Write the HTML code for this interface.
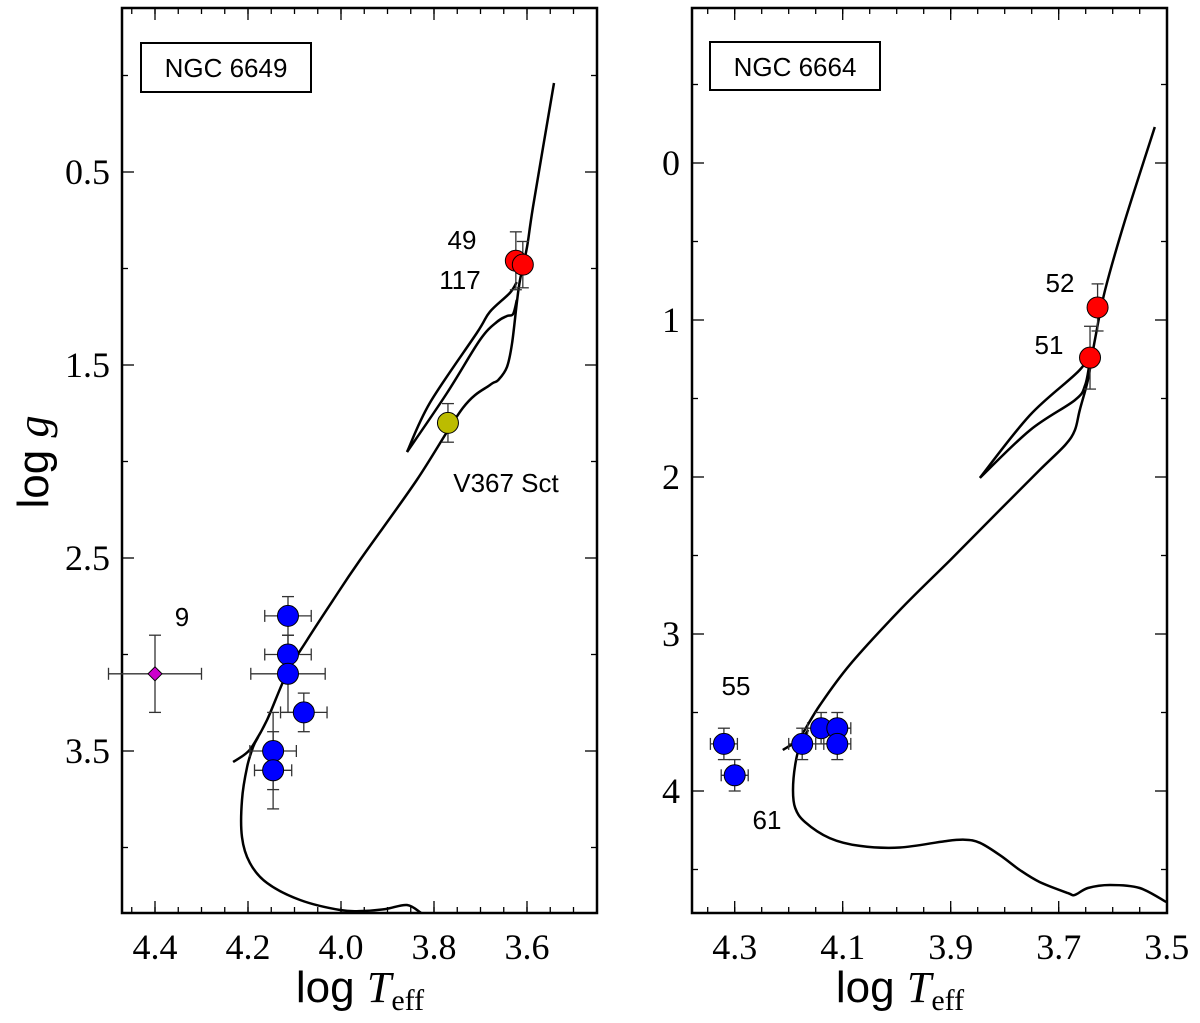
<!DOCTYPE html>
<html><head><meta charset="utf-8"><style>
body{margin:0;background:#fff}
svg text{font-family:"Liberation Sans",sans-serif}
.tk{font-family:"Liberation Serif",serif;font-size:36px}
</style></head><body>
<svg id="c" width="1200" height="1018" xmlns="http://www.w3.org/2000/svg"></svg>
<script>
// ---------- data ----------
const leftXTicks=[4.4,4.2,4.0,3.8,3.6];
const leftXTickLabels=["4.4","4.2","4.0","3.8","3.6"];
const leftYTicks=[0.5,1.5,2.5,3.5];
const leftYTickLabels=["0.5","1.5","2.5","3.5"];
const rightXTicks=[4.3,4.1,3.9,3.7,3.5];
const rightXTickLabels=["4.3","4.1","3.9","3.7","3.5"];
const rightYTicks=[0,1,2,3,4];
const rightYTickLabels=["0","1","2","3","4"];

const leftBlueT=[4.114,4.114,4.114,4.08,4.146,4.146];
const leftBlueG=[2.8,3.0,3.1,3.3,3.5,3.6];
const leftBlueTe=[0.05,0.05,0.08,0.05,0.05,0.04];
const leftBlueGe=[0.1,0.1,0.2,0.1,0.2,0.2];
const leftRedT=[3.624,3.609];
const leftRedG=[0.96,0.98];
const leftRedGe=[0.15,0.12];
const leftYellowT=[3.77]; const leftYellowG=[1.80]; const leftYellowGe=[0.1];
const leftDiamondT=[4.4]; const leftDiamondG=[3.1];

const rightBlueT=[4.32,4.30,4.175,4.14,4.11,4.11];
const rightBlueG=[3.7,3.9,3.7,3.6,3.6,3.7];
const rightRedT=[3.628,3.642];
const rightRedG=[0.92,1.24];

const leftIsoMS=[[3.828,4.339],[3.858,4.298],[3.905,4.319],[3.953,4.329],[4.002,4.324],[4.088,4.272],[4.159,4.184],[4.196,4.08],[4.213,3.946],[4.213,3.754],[4.202,3.583],[4.189,3.479],[4.178,3.427]];
const leftIsoRGB=[[4.232,3.557],[4.206,3.516],[4.189,3.469],[4.159,3.339],[4.116,3.096],[4.073,2.925],[4.017,2.718],[3.959,2.51],[3.837,2.096],[3.738,1.723],[3.68,1.604],[3.662,1.578],[3.643,1.51],[3.632,1.386],[3.622,1.179],[3.615,1.06],[3.6,0.889],[3.587,0.681],[3.542,0.039]];
const leftLoopA=[[3.858,1.951],[3.772,1.645],[3.701,1.37],[3.665,1.277],[3.643,1.246],[3.63,1.236],[3.622,1.163]];
const leftLoopB=[[3.858,1.951],[3.809,1.697],[3.708,1.334],[3.68,1.225],[3.637,1.127],[3.622,1.07]];

const rightIsoMS=[[3.501,4.707],[3.55,4.618],[3.605,4.599],[3.646,4.618],[3.67,4.662],[3.683,4.65],[3.735,4.58],[3.772,4.503],[3.809,4.408],[3.846,4.33],[3.874,4.31],[3.911,4.32],[3.994,4.36],[4.068,4.35],[4.124,4.3],[4.17,4.197],[4.188,4.108],[4.192,3.994],[4.188,3.834],[4.179,3.707],[4.164,3.611]];
const rightIsoRGB=[[4.211,3.739],[4.188,3.688],[4.174,3.631],[4.142,3.452],[4.087,3.197],[3.994,2.847],[3.901,2.529],[3.809,2.21],[3.735,1.955],[3.688,1.796],[3.67,1.701],[3.661,1.573],[3.646,1.382],[3.633,1.127],[3.614,0.809],[3.577,0.363],[3.522,-0.229]];
const rightLoopA=[[3.846,2.006],[3.753,1.701],[3.67,1.51],[3.651,1.414],[3.642,1.255]];
const rightLoopB=[[3.846,2.006],[3.753,1.605],[3.661,1.318],[3.642,1.191]];

// ---------- helpers ----------
const NS="http://www.w3.org/2000/svg";
const svg=document.getElementById('c');
function mk(tag,attrs,parent){const e=document.createElementNS(NS,tag);for(const k in attrs)e.setAttribute(k,attrs[k]);(parent||svg).appendChild(e);return e;}
const L={x0:122,x1:597,y0:8,y1:913,x:t=>155+(4.4-t)*465,y:g=>172+(g-0.5)*193};
const R={x0:692,x1:1167,y0:8,y1:913,x:t=>734.7+(4.3-t)*540,y:g=>163+g*157};

function frame(P,xt,xl,yt,yl,xminor,yminor,name){
  const g=mk('g',{});
  
  
  mk('rect',{x:P.x0,y:P.y0,width:P.x1-P.x0,height:P.y1-P.y0,fill:'none',stroke:'#000','stroke-width':2.5},g);
  xminor.forEach(t=>{const x=P.x(t);if(x<P.x0||x>P.x1)return;
    mk('line',{x1:x,x2:x,y1:P.y1,y2:P.y1-6,stroke:'#000','stroke-width':1.3},g);
    mk('line',{x1:x,x2:x,y1:P.y0,y2:P.y0+6,stroke:'#000','stroke-width':1.3},g);});
  xt.forEach((t,i)=>{const x=P.x(t);
    mk('line',{x1:x,x2:x,y1:P.y1,y2:P.y1-12,stroke:'#000','stroke-width':1.3},g);
    mk('line',{x1:x,x2:x,y1:P.y0,y2:P.y0+12,stroke:'#000','stroke-width':1.3},g);
    const tx=mk('text',{x:x,y:P.y1+46,'text-anchor':'middle',class:'tk'},g);tx.textContent=xl[i];
    
    });
  yminor.forEach(v=>{const y=P.y(v);if(y<P.y0||y>P.y1)return;
    mk('line',{x1:P.x0,x2:P.x0+6,y1:y,y2:y,stroke:'#000','stroke-width':1.3},g);
    mk('line',{x1:P.x1,x2:P.x1-6,y1:y,y2:y,stroke:'#000','stroke-width':1.3},g);});
  yt.forEach((v,i)=>{const y=P.y(v);
    mk('line',{x1:P.x0,x2:P.x0+12,y1:y,y2:y,stroke:'#000','stroke-width':1.3},g);
    mk('line',{x1:P.x1,x2:P.x1-12,y1:y,y2:y,stroke:'#000','stroke-width':1.3},g);
    const tx=mk('text',{x:P.x0-12,y:y+12,'text-anchor':'end',class:'tk'},g);tx.textContent=yl[i];
    
    });
}
function line(P,pts,name){
  const p=pts.map(q=>[P.x(q[0]),P.y(q[1])]);
  let d='M'+p[0][0].toFixed(1)+' '+p[0][1].toFixed(1);
  for(let i=0;i<p.length-1;i++){
    const p0=p[Math.max(0,i-1)],p1=p[i],p2=p[i+1],p3=p[Math.min(p.length-1,i+2)];
    const c1=[p1[0]+(p2[0]-p0[0])/6,p1[1]+(p2[1]-p0[1])/6];
    const c2=[p2[0]-(p3[0]-p1[0])/6,p2[1]-(p3[1]-p1[1])/6];
    d+=` C${c1[0].toFixed(1)} ${c1[1].toFixed(1)} ${c2[0].toFixed(1)} ${c2[1].toFixed(1)} ${p2[0].toFixed(1)} ${p2[1].toFixed(1)}`;
  }
  const e=mk('path',{d:d,fill:'none',stroke:'#000','stroke-width':2.5,'stroke-linejoin':'round'});
  
  
}
function ebar(P,t,g,te,ge){
  const x=P.x(t),y=P.y(g),c='#333';
  if(te){const xa=P.x(t+te),xb=P.x(t-te);
    mk('line',{x1:xa,x2:xb,y1:y,y2:y,stroke:c,'stroke-width':1.3});
    mk('line',{x1:xa,x2:xa,y1:y-6,y2:y+6,stroke:c,'stroke-width':1.3});
    mk('line',{x1:xb,x2:xb,y1:y-6,y2:y+6,stroke:c,'stroke-width':1.3});}
  if(ge){const ya=P.y(g-ge),yb=P.y(g+ge);
    mk('line',{x1:x,x2:x,y1:ya,y2:yb,stroke:c,'stroke-width':1.3});
    mk('line',{x1:x-6,x2:x+6,y1:ya,y2:ya,stroke:c,'stroke-width':1.3});
    mk('line',{x1:x-6,x2:x+6,y1:yb,y2:yb,stroke:c,'stroke-width':1.3});}
}
function dot(P,t,g,col,name){
  const e=mk('circle',{cx:P.x(t),cy:P.y(g),r:10.5,fill:col,stroke:'#000','stroke-width':1});
  
  
}
function label(x,y,s,name,size){
  const e=mk('text',{x:x,y:y,'font-size':size||26,'text-anchor':'middle'});e.textContent=s;
  
  
}
function range(a,b,s){const r=[];for(let v=a;v<=b+1e-9;v+=s)r.push(+v.toFixed(3));return r;}

// ---------- left panel ----------
frame(L,leftXTicks,leftXTickLabels,leftYTicks,leftYTickLabels,range(3.3,4.5,0.05),range(0,4,1),'left');
line(L,leftIsoMS,'left-isochrone-main-sequence');
line(L,leftIsoRGB,'left-isochrone-giant-branch');
line(L,leftLoopA,'left-isochrone-loop-lower');
line(L,leftLoopB,'left-isochrone-loop-upper');
leftBlueT.forEach((t,i)=>ebar(L,t,leftBlueG[i],leftBlueTe[i],leftBlueGe[i]));
leftRedT.forEach((t,i)=>ebar(L,t,leftRedG[i],0,leftRedGe[i]));
ebar(L,leftYellowT[0],leftYellowG[0],0,leftYellowGe[0]);
ebar(L,leftDiamondT[0],leftDiamondG[0],0.1,0.2);
leftBlueT.forEach((t,i)=>dot(L,t,leftBlueG[i],'#0000ff','left-blue-star'));
leftRedT.forEach((t,i)=>dot(L,t,leftRedG[i],'#ff0000','left-red-star'));
dot(L,leftYellowT[0],leftYellowG[0],'#bcbc00','v367-sct-star');
{const x=L.x(leftDiamondT[0]),y=L.y(leftDiamondG[0]);
 const e=mk('polygon',{points:`${x},${y-7} ${x+7},${y} ${x},${y+7} ${x-7},${y}`,fill:'#cc00cc',stroke:'#000','stroke-width':1});
 
 }
label(462,249,'49','label-49');
label(460,289,'117','label-117');
label(506,492,'V367 Sct','label-v367-sct');
label(182,626,'9','label-9');
{const g=mk('g',{});
 mk('rect',{x:141,y:43,width:170,height:49,fill:'#fff',stroke:'#000','stroke-width':2},g);
 const t=mk('text',{x:226,y:77,'font-size':26,'text-anchor':'middle'},g);t.textContent='NGC 6649';}

// ---------- right panel ----------
frame(R,rightXTicks,rightXTickLabels,rightYTicks,rightYTickLabels,range(3.5,4.4,0.05),range(-0.5,4.5,1),'right');
line(R,rightIsoMS,'right-isochrone-main-sequence');
line(R,rightIsoRGB,'right-isochrone-giant-branch');
line(R,rightLoopA,'right-isochrone-loop-lower');
line(R,rightLoopB,'right-isochrone-loop-upper');
rightBlueT.forEach((t,i)=>ebar(R,t,rightBlueG[i],0.025,0.1));
ebar(R,rightRedT[0],rightRedG[0],0,0.15);
ebar(R,rightRedT[1],rightRedG[1],0,0.2);
rightBlueT.forEach((t,i)=>dot(R,t,rightBlueG[i],'#0000ff','right-blue-star'));
rightRedT.forEach((t,i)=>dot(R,t,rightRedG[i],'#ff0000','right-red-star'));
label(1060,292,'52','label-52');
label(1049,354,'51','label-51');
label(736,695,'55','label-55');
label(767,829,'61','label-61');
{const g=mk('g',{});
 mk('rect',{x:710,y:42,width:170,height:48,fill:'#fff',stroke:'#000','stroke-width':2},g);
 const t=mk('text',{x:795,y:76,'font-size':26,'text-anchor':'middle'},g);t.textContent='NGC 6664';}

// ---------- axis titles ----------
function xtitle(cx,name){
  const t=mk('text',{x:cx,y:1002,'font-size':44,'text-anchor':'middle'});
  
  
  t.innerHTML='log <tspan font-family="Liberation Serif" font-style="italic">T</tspan><tspan font-family="Liberation Serif" font-size="30" dy="8">eff</tspan>';
}
xtitle(360,'left-x-axis-title');
xtitle(900,'right-x-axis-title');
{const t=mk('text',{x:0,y:0,'font-size':44,'text-anchor':'middle',transform:'translate(48,462) rotate(-90)'});
 
 
 t.innerHTML='log <tspan font-family="Liberation Serif" font-style="italic">g</tspan>';}
</script>
</body></html>
